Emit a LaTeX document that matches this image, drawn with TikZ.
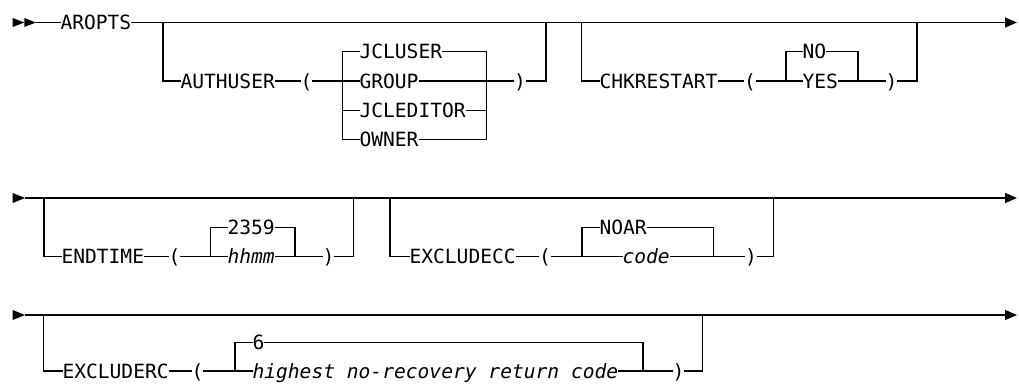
\documentclass[tikz,border=0pt]{standalone}
\usepackage{fontspec}
\newfontfamily\diagfont[ItalicFont={DejaVu Sans Mono Oblique}]{DejaVu Sans Mono}
\usetikzlibrary{arrows.meta}

\begin{document}
\begin{tikzpicture}[x=1pt,y=-1pt,line width=1.1pt,line join=miter,
  kw/.style={inner sep=0pt,outer sep=0pt,text height=14.3pt,text depth=0pt,
    anchor=west,font=\diagfont\fontsize{19.6pt}{22pt}\selectfont},
  var/.style={kw,font=\diagfont\itshape\fontsize{19.6pt}{22pt}\selectfont},
  paren/.style={kw,anchor=center},
  endarrow/.style={-{Triangle[length=12pt,width=10pt]}}]
\useasboundingbox (0,0) rectangle (1019,383);

% ---------------- first line: AROPTS, AUTHUSER, CHKRESTART
\fill (12.7,18) -- (24.3,22.5) -- (12.7,27) -- cycle;
\fill (24.3,18) -- (36,22.5) -- (24.3,27) -- cycle;
\coordinate (s1) at (36,22.5);
\coordinate (e1) at (1017,22.5);
\coordinate (j1a) at (163,22.5);
\coordinate (j1b) at (546,22.5);
\coordinate (j1c) at (581.7,22.5);
\coordinate (j1d) at (917,22.5);
\node[kw] (aropts) at (60.5,22.5) {AROPTS};
\draw (s1) -- (aropts.west);
\draw[endarrow] (aropts.east) -- (e1);

\node[kw] (authuser) at (180.5,81) {AUTHUSER};
\draw (j1a) |- (authuser.west);
\node[paren] (lp1) at (306.5,81) {(};
\draw (authuser.east) -- (lp1.west);
\node[kw] (jcluser) at (359.5,51.7) {JCLUSER};
\node[kw] (group) at (359.5,81) {GROUP};
\node[kw] (jcleditor) at (359.5,110.3) {JCLEDITOR};
\node[kw] (owner) at (359.5,139.6) {OWNER};
\coordinate (a1l) at (342.7,51.7);
\coordinate (a1r) at (486.7,51.7);
\draw (lp1.east) -- (group.west);
\draw (jcluser.west) -- (a1l) -- (a1l |- owner) -- (owner.west);
\draw (jcleditor.west) -- (jcleditor.west -| a1l);
\draw (jcluser.east) -- (a1r) -- (a1r |- owner) -- (owner.east);
\draw (jcleditor.east) -- (jcleditor.east -| a1r);
\node[paren] (rp1) at (520,81) {)};
\draw (group.east) -- (rp1.west);
\draw (rp1.east) -| (j1b);

\node[kw] (chkrestart) at (599.5,81) {CHKRESTART};
\draw (j1c) |- (chkrestart.west);
\node[paren] (lp2) at (750,81) {(};
\draw (chkrestart.east) -- (lp2.west);
\node[kw] (no) at (802.5,51.7) {NO};
\node[kw] (yes) at (802.5,81) {YES};
\coordinate (b2l) at (786,51.7);
\coordinate (b2r) at (858,51.7);
\draw (lp2.east) -- (yes.west);
\draw (no.west) -- (b2l) -- (b2l |- yes);
\draw (no.east) -- (b2r) -- (b2r |- yes);
\node[paren] (rp2) at (891.5,81) {)};
\draw (yes.east) -- (rp2.west);
\draw (rp2.east) -| (j1d);

% ---------------- second line: ENDTIME, EXCLUDECC
\fill (12.7,193) -- (25,198) -- (12.7,203) -- cycle;
\coordinate (s2) at (25,198);
\coordinate (e2) at (1017,198);
\coordinate (j2a) at (44,198);
\coordinate (j2b) at (353.3,198);
\coordinate (j2c) at (390,198);
\coordinate (j2d) at (773.5,198);
\draw[endarrow] (s2) -- (e2);

\node[kw] (endtime) at (61.5,256.5) {ENDTIME};
\draw (j2a) |- (endtime.west);
\node[paren] (lp3) at (174.5,256.5) {(};
\draw (endtime.east) -- (lp3.west);
\node[kw] (t2359) at (227.5,227.3) {2359};
\node[var] (hhmm) at (227.5,256.5) {hhmm};
\coordinate (b3l) at (210.7,227.3);
\coordinate (b3r) at (295,227.3);
\draw (lp3.east) -- (hhmm.west);
\draw (t2359.west) -- (b3l) -- (b3l |- hhmm);
\draw (t2359.east) -- (b3r) -- (b3r |- hhmm);
\node[paren] (rp3) at (328.5,256.5) {)};
\draw (hhmm.east) -- (rp3.west);
\draw (rp3.east) -| (j2b);

\node[kw] (excludecc) at (409.5,256.5) {EXCLUDECC};
\draw (j2c) |- (excludecc.west);
\node[paren] (lp4) at (545,256.5) {(};
\draw (excludecc.east) -- (lp4.west);
\node[kw] (noar) at (599.5,227.3) {NOAR};
\node[var] (code) at (622.5,256.5) {code};
\coordinate (b4l) at (582,227.3);
\coordinate (b4r) at (713.7,227.3);
\draw (lp4.east) -- (code.west);
\draw (noar.west) -- (b4l) -- (b4l |- code);
\draw (noar.east) -- (b4r) -- (b4r |- code);
\node[paren] (rp4) at (751,256.5) {)};
\draw (code.east) -- (rp4.west);
\draw (rp4.east) -| (j2d);

% ---------------- third line: EXCLUDERC
\fill (12.7,310) -- (25,315) -- (12.7,320) -- cycle;
\coordinate (s3) at (25,315);
\coordinate (e3) at (1017,315);
\coordinate (j3a) at (43.5,315);
\coordinate (j3b) at (702.7,315);
\draw[endarrow] (s3) -- (e3);

\node[kw] (excluderc) at (62.5,371) {EXCLUDERC};
\draw (j3a) |- (excluderc.west);
\node[paren] (lp5) at (197.5,371) {(};
\draw (excluderc.east) -- (lp5.west);
\node[kw] (six) at (252.5,342.5) {6};
\node[var] (highest) at (252.5,371) {highest no-recovery return code};
\coordinate (b5l) at (235,342.5);
\coordinate (b5r) at (643,342.5);
\draw (lp5.east) -- (highest.west);
\draw (six.west) -- (b5l) -- (b5l |- highest);
\draw (six.east) -- (b5r) -- (b5r |- highest);
\node[paren] (rp5) at (678.5,371) {)};
\draw (highest.east) -- (rp5.west);
\draw (rp5.east) -| (j3b);
\end{tikzpicture}
\end{document}
